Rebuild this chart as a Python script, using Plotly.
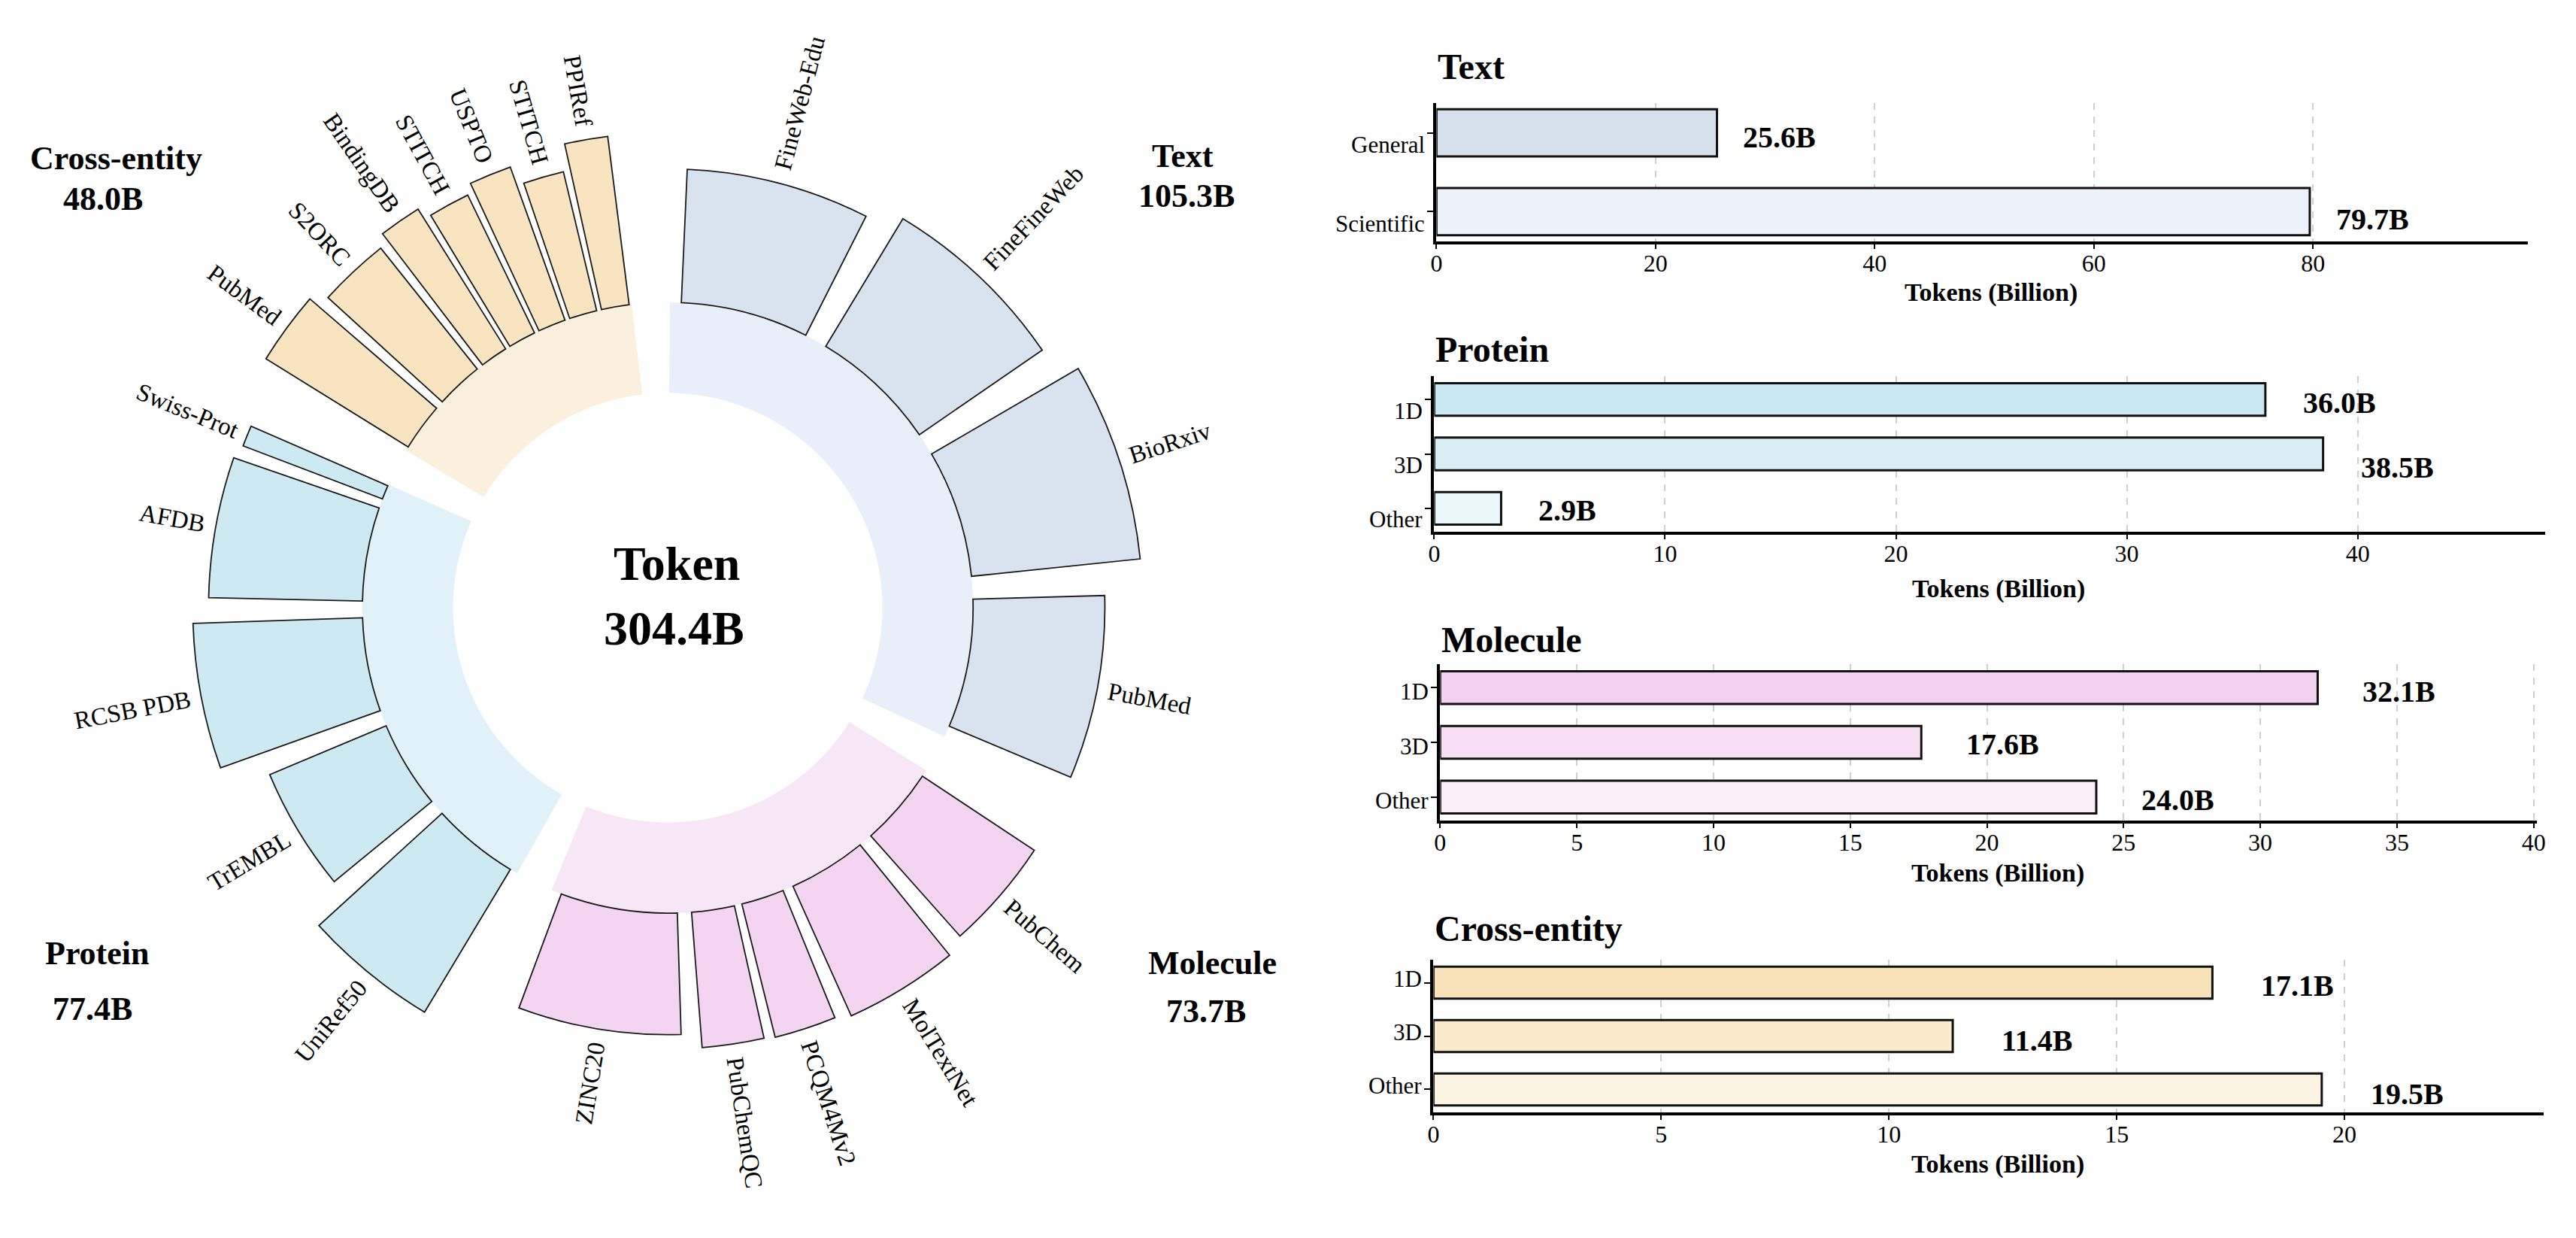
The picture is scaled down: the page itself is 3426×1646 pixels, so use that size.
import math
import plotly.graph_objects as go

W, H = 3426, 1646
SERIF = "Liberation Serif, Times New Roman, serif"

# ---------------- data: circular overview ----------------
GROUPS = ["Text", "Molecule", "Protein", "Cross-entity"]
GROUP_TOKENS = [105.3, 73.7, 77.4, 48.0]
TOTAL_LABEL = "304.4B"

TEXT_SETS = ["FineWeb-Edu", "FineFineWeb", "BioRxiv", "PubMed"]
TEXT_SET_TOKENS = [26.3, 26.3, 26.3, 26.4]
TEXT_SET_SCORES = [169, 189, 215, 167]

MOLECULE_SETS = ["PubChem", "MolTextNet", "PCQM4Mv2", "PubChemQC", "ZINC20"]
MOLECULE_SET_TOKENS = [16.05, 16.05, 8.8, 8.8, 24.0]
MOLECULE_SET_SCORES = [170, 180, 174, 172, 154]

PROTEIN_SETS = ["UniRef50", "TrEMBL", "RCSB PDB", "AFDB", "Swiss-Prot"]
PROTEIN_SET_TOKENS = [18.0, 18.0, 19.25, 19.25, 2.9]
PROTEIN_SET_SCORES = [211, 160, 215, 195, 189]

CROSS_SETS = ["PubMed", "S2ORC", "BindingDB", "STITCH", "USPTO", "STITCH", "PPIRef"]
CROSS_SET_TOKENS = [9.75, 9.75, 5.7, 5.7, 5.7, 5.7, 5.7]
CROSS_SET_SCORES = [212, 196, 209, 194, 206, 181, 215]

# ---------------- data: bar panels ----------------
TEXT_CATS = ["General", "Scientific"]
TEXT_VALUES = [25.6, 79.7]
PROTEIN_CATS = ["1D", "3D", "Other"]
PROTEIN_VALUES = [36.0, 38.5, 2.9]
MOLECULE_CATS = ["1D", "3D", "Other"]
MOLECULE_VALUES = [32.1, 17.6, 24.0]
CROSS_CATS = ["1D", "3D", "Other"]
CROSS_VALUES = [17.1, 11.4, 19.5]

# ---------------- styles ----------------
RING_COLORS = ["#E8EFF8", "#F7E7F6", "#E0F2F7", "#FBF0DC"]
SET_COLORS = ["#D9E3F0", "#F3D5F1", "#CDEAF2", "#F8E4C0"]
PANEL_COLORS = {
    "Text": ["#D7E1EE", "#EDF1F9"],
    "Protein": ["#C9E8F1", "#D9EFF5", "#E9F6FA"],
    "Molecule": ["#F2D2F0", "#F6DFF3", "#FAEEF9"],
    "Cross-entity": ["#F8E3BA", "#FAEBCD", "#FCF4E2"],
}

# circle geometry (pixels of the full page)
CX, CY = 885, 808
PX_PER_UNIT = 1.0552
HOLE_R, RING_R, R_MAX = 272, 387, 640
GAP_DEG, START_DEG, BAR_FRAC = 7.2, 0.4, 0.85
LABEL_SIZE, LABEL_PAD = 33, 14

UPPER = [722, 667, 667, 722, 611, 556, 722, 722, 333, 389, 722, 611, 889,
         722, 722, 556, 722, 667, 556, 611, 722, 722, 944, 722, 722, 611]
LOWER = [444, 500, 444, 500, 444, 333, 500, 500, 278, 278, 500, 278, 778,
         500, 500, 500, 500, 333, 389, 278, 500, 500, 722, 500, 500, 444]


def text_em(s):
    total = 0
    for c in s:
        if c.isupper():
            total += UPPER[ord(c) - 65]
        elif c.islower():
            total += LOWER[ord(c) - 97]
        elif c.isdigit():
            total += 500
        elif c == "-":
            total += 333
        else:
            total += 250
    return total / 1000


def paper(xp, yp):
    return xp / W, 1 - yp / H


def label(xp, yp, text, size, xanchor="center", angle=0, bold=False):
    x, y = paper(xp, yp)
    return dict(x=x, y=y, xref="paper", yref="paper",
                text=f"<b>{text}</b>" if bold else text, showarrow=False,
                textangle=angle, xanchor=xanchor, yanchor="middle",
                font=dict(family=SERIF, size=size, color="black"))


fig = go.Figure()
annotations = []

group_sets = [TEXT_SETS, MOLECULE_SETS, PROTEIN_SETS, CROSS_SETS]
group_set_tokens = [TEXT_SET_TOKENS, MOLECULE_SET_TOKENS, PROTEIN_SET_TOKENS, CROSS_SET_TOKENS]
group_set_scores = [TEXT_SET_SCORES, MOLECULE_SET_SCORES, PROTEIN_SET_SCORES, CROSS_SET_SCORES]

deg_per_b = (360 - GAP_DEG * len(GROUPS)) / sum(GROUP_TOKENS)
ang = START_DEG
for gi, group in enumerate(GROUPS):
    span = GROUP_TOKENS[gi] * deg_per_b
    fig.add_trace(go.Barpolar(
        theta=[ang + span / 2], r=[RING_R - HOLE_R], base=[HOLE_R], width=[span],
        marker=dict(color=RING_COLORS[gi], line=dict(width=0)),
        hoverinfo="skip", showlegend=False))

    thetas, widths = [], []
    a = ang
    for t in group_set_tokens[gi]:
        slot = t * deg_per_b
        thetas.append(a + slot / 2)
        widths.append(slot * BAR_FRAC)
        a += slot
    fig.add_trace(go.Barpolar(
        theta=thetas, r=group_set_scores[gi], base=[RING_R] * len(thetas), width=widths,
        marker=dict(color=SET_COLORS[gi], line=dict(color="#1a1a1a", width=1.8)),
        hoverinfo="skip", showlegend=False))

    # dataset names, written along the radius just outside each bar
    for name, th, sc in zip(group_sets[gi], thetas, group_set_scores[gi]):
        half = text_em(name) * LABEL_SIZE / PX_PER_UNIT / 2
        rr = (RING_R + sc + LABEL_PAD + half) * PX_PER_UNIT
        rad = math.radians(th)
        angle = th - 90 if th < 180 else th - 270
        annotations.append(label(CX + rr * math.sin(rad), CY - rr * math.cos(rad),
                                 name, LABEL_SIZE, angle=angle))
    ang += span + GAP_DEG

R_PX = R_MAX * PX_PER_UNIT
x0, y1 = paper(CX - R_PX, CY - R_PX)
x1, y0 = paper(CX + R_PX, CY + R_PX)
polar = dict(
    domain=dict(x=[x0, x1], y=[y0, y1]),
    hole=HOLE_R / R_MAX,
    bgcolor="rgba(0,0,0,0)",
    radialaxis=dict(range=[HOLE_R, R_MAX], visible=False, showgrid=False),
    angularaxis=dict(direction="clockwise", rotation=90, visible=False,
                     showgrid=False, showline=False, showticklabels=False, ticks=""),
)

# centre and group captions
annotations.append(label(897, 750, "Token", 64, bold=True))
annotations.append(label(893, 835, TOTAL_LABEL, 64, bold=True))

group_caption_pos = {
    "Text": [(1574, 207), (1579, 261)],
    "Cross-entity": [(147, 210), (130, 265)],
    "Protein": [(122, 1267), (116, 1341)],
    "Molecule": [(1613, 1280), (1605, 1344)],
}
for gi, group in enumerate(GROUPS):
    (xa, ya), (xb, yb) = group_caption_pos[group]
    annotations.append(label(xa, ya, group, 44, bold=True))
    annotations.append(label(xb, yb, f"{GROUP_TOKENS[gi]:.1f}B", 44, bold=True))

# ---------------- bar panels ----------------
panels = [
    ("Text", TEXT_CATS, TEXT_VALUES, 20),
    ("Protein", PROTEIN_CATS, PROTEIN_VALUES, 10),
    ("Molecule", MOLECULE_CATS, MOLECULE_VALUES, 5),
    ("Cross-entity", CROSS_CATS, CROSS_VALUES, 5),
]
# axes box (x0, x1, ytop, ybottom), title y, axis-title y,
# value-label x shift, value-label y drops, category-label y drop
panel_boxes = [
    ((1913, 3373, 137, 321), 88, 389, 33, [6, 10], 16),
    ((1910, 3396, 500, 707), 464, 783, 48, [4, 18, 3], 15),
    ((1918, 3385, 883, 1091), 850, 1161, 58, [5, 2, 4], 5),
    ((1909, 3394, 1276, 1479), 1234, 1548, 63, [4, 6, 6], -5),
]

layout_axes = {}
for i, ((name, cats, vals, step), (box, title_y, atitle_y, xshift, yshifts, cat_drop)) in enumerate(
        zip(panels, panel_boxes), start=1):
    xa, ya = ("x", "y") if i == 1 else (f"x{i}", f"y{i}")
    bx0, bx1, by0, by1 = box
    fig.add_trace(go.Bar(
        x=vals, y=cats, orientation="h", width=0.6, xaxis=xa, yaxis=ya,
        marker=dict(color=PANEL_COLORS[name], line=dict(color="#111111", width=3)),
        hoverinfo="skip", showlegend=False))
    n = len(cats)
    m = 0.3 + 0.05 * (n - 1 + 0.6)
    layout_axes["xaxis" if i == 1 else f"xaxis{i}"] = dict(
        domain=[bx0 / W, bx1 / W], anchor=ya, range=[0, 1.25 * max(vals)],
        dtick=step, tick0=0, showline=True, linewidth=3.5, linecolor="black",
        ticks="outside", ticklen=6, tickwidth=2, tickcolor="black",
        ticklabelstandoff=-8,
        tickfont=dict(family=SERIF, size=32, color="black"),
        showgrid=True, gridcolor="#cfcfcf", griddash="dash", gridwidth=1.5,
        zeroline=False)
    layout_axes["yaxis" if i == 1 else f"yaxis{i}"] = dict(
        domain=[1 - by1 / H, 1 - by0 / H], anchor=xa, type="category",
        categoryorder="array", categoryarray=cats, range=[n - 1 + m, -m],
        showline=True, linewidth=3.5, linecolor="black",
        ticks="outside", ticklen=9, tickwidth=2, tickcolor="black",
        showticklabels=False, showgrid=False, zeroline=False)

    annotations.append(label(bx0, title_y, name, 48, xanchor="left", bold=True))
    annotations.append(label((bx0 + bx1) / 2 + 12, atitle_y, "Tokens (Billion)", 34, bold=True))
    for c, v, ys in zip(cats, vals, yshifts):
        annotations.append(dict(x=v, y=c, xref=xa, yref=ya, text=f"<b>{v:.1f}B</b>",
                                showarrow=False, xanchor="left", yanchor="middle",
                                xshift=xshift, yshift=-ys,
                                font=dict(family=SERIF, size=40, color="black")))
        annotations.append(dict(x=(bx0 - 13) / W, y=c, xref="paper", yref=ya, text=c,
                                showarrow=False, xanchor="right", yanchor="middle",
                                yshift=-cat_drop,
                                font=dict(family=SERIF, size=31, color="black")))

fig.update_layout(
    width=W, height=H,
    margin=dict(l=0, r=0, t=0, b=0),
    paper_bgcolor="white", plot_bgcolor="white",
    polar=polar,
    annotations=annotations,
    showlegend=False,
    **layout_axes,
)

fig.write_html("out.html", config={"displayModeBar": False},
               post_script="document.body.style.margin = '0px';")
